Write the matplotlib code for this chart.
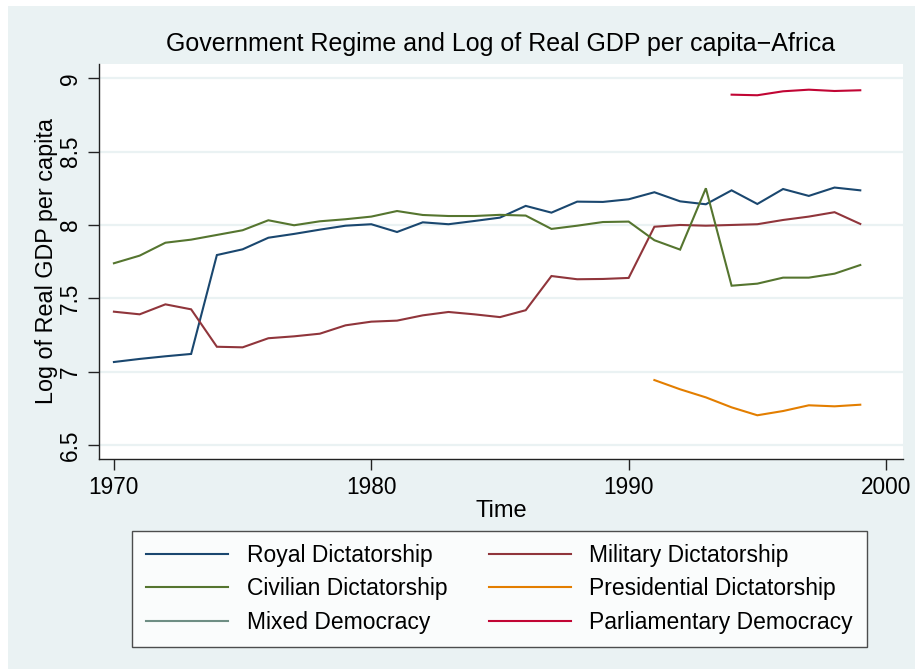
import matplotlib
matplotlib.use("Agg")
import matplotlib.pyplot as plt
from matplotlib.patches import Rectangle
from matplotlib.lines import Line2D

plt.rcParams['font.family'] = ['Liberation Sans', 'DejaVu Sans']

# Log of real GDP per capita by government regime, Africa
royal_years = list(range(1970, 2000))
royal_gdp = [7.066, 7.087, 7.105, 7.121, 7.795, 7.834, 7.913, 7.939, 7.968, 7.995,
             8.005, 7.952, 8.018, 8.005, 8.027, 8.050, 8.130, 8.084, 8.159, 8.157,
             8.175, 8.223, 8.161, 8.141, 8.236, 8.143, 8.245, 8.198, 8.255, 8.236]

military_years = list(range(1970, 2000))
military_gdp = [7.409, 7.391, 7.459, 7.425, 7.170, 7.166, 7.228, 7.241, 7.259, 7.316,
                7.341, 7.348, 7.384, 7.407, 7.391, 7.372, 7.419, 7.652, 7.630, 7.632,
                7.639, 7.988, 8.000, 7.995, 8.000, 8.005, 8.034, 8.057, 8.087, 8.007]

civilian_years = list(range(1970, 2000))
civilian_gdp = [7.739, 7.791, 7.879, 7.900, 7.932, 7.964, 8.032, 7.998, 8.025, 8.039,
                8.057, 8.095, 8.068, 8.061, 8.061, 8.069, 8.064, 7.973, 7.995, 8.020,
                8.023, 7.896, 7.832, 8.250, 7.586, 7.600, 7.641, 7.641, 7.668, 7.727]

presidential_years = list(range(1991, 2000))
presidential_gdp = [6.943, 6.880, 6.825, 6.757, 6.703, 6.732, 6.771, 6.764, 6.775]

mixed_years = []
mixed_gdp = []

parliamentary_years = list(range(1994, 2000))
parliamentary_gdp = [8.888, 8.884, 8.911, 8.922, 8.913, 8.918]

x_ticks = [1970, 1980, 1990, 2000]
y_ticks = [6.5, 7, 7.5, 8, 8.5, 9]
y_tick_labels = ["6.5", "7", "7.5", "8", "8.5", "9"]

series = [
    ("Royal Dictatorship", royal_years, royal_gdp, "#1a476f"),
    ("Military Dictatorship", military_years, military_gdp, "#90353b"),
    ("Civilian Dictatorship", civilian_years, civilian_gdp, "#55752f"),
    ("Presidential Dictatorship", presidential_years, presidential_gdp, "#e37e00"),
    ("Mixed Democracy", mixed_years, mixed_gdp, "#6e8e84"),
    ("Parliamentary Democracy", parliamentary_years, parliamentary_gdp, "#c10534"),
]

W, H = 915, 669
BG = "#eaf2f3"
fig = plt.figure(figsize=(W / 100, H / 100), dpi=100)
fig.patch.set_facecolor("white")
fig.patches.append(Rectangle((8 / W, 0), 1 - 8 / W, 1 - 6 / H, transform=fig.transFigure,
                             facecolor=BG, edgecolor="none", zorder=-10))

ax = fig.add_axes([99 / W, 1 - 459 / H, 804 / W, 395 / H])
ax.set_facecolor("white")
for name, xs, ys, col in series:
    ax.plot(xs, ys, color=col, lw=1.5, label=name, solid_joinstyle="miter")

ax.set_xlim(1969.42, 2000.66)
ax.set_ylim(6.405, 9.097)
ax.set_xticks(x_ticks)
ax.set_yticks(y_ticks)
ax.set_yticklabels(y_tick_labels, rotation=90, va="center")
ax.yaxis.grid(True, color=BG, lw=1.6)
ax.set_axisbelow(True)
for s in ["top", "right"]:
    ax.spines[s].set_visible(False)
for s in ["left", "bottom"]:
    ax.spines[s].set_color("#222222")
    ax.spines[s].set_linewidth(1.0)
ax.tick_params(axis="both", length=8, width=1.0, color="#222222", labelsize=16.3, pad=4)

ax.set_xlabel("Time", fontsize=17, labelpad=1)
ax.set_ylabel("Log of Real GDP per capita", fontsize=16.8, labelpad=1)
ax.set_title("Government Regime and Log of Real GDP per capita\u2212Africa",
             fontsize=18, pad=9)

handles = [Line2D([], [], color=c, lw=1.5) for _, _, _, c in series]
labels = [n for n, _, _, _ in series]
order = [0, 2, 4, 1, 3, 5]
leg = fig.legend([handles[i] for i in order], [labels[i] for i in order], ncol=2,
                 loc="center", bbox_to_anchor=((128 + 871) / 2 / W, 1 - 589 / H),
                 fontsize=16.5, frameon=True, fancybox=False, edgecolor="#222222",
                 handlelength=3.6, handletextpad=0.8, columnspacing=1.8,
                 labelspacing=0.44, borderpad=0.6, borderaxespad=0)
leg.get_frame().set_linewidth(1.0)

fig.savefig("out.png", dpi=100, facecolor=fig.get_facecolor())
